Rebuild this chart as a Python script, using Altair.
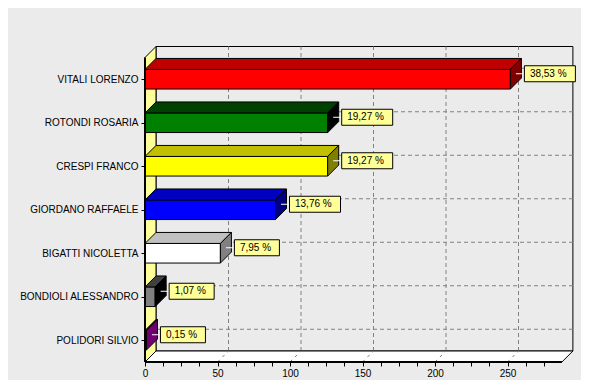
import json
import altair as alt
import pandas as pd

# ---------------- data ----------------
names = ["VITALI LORENZO", "ROTONDI ROSARIA", "CRESPI FRANCO", "GIORDANO RAFFAELE",
         "BIGATTI NICOLETTA", "BONDIOLI ALESSANDRO", "POLIDORI SILVIO"]
votes = [252, 126, 126, 90, 52, 7, 1]
pct = [38.53, 19.27, 19.27, 13.76, 7.95, 1.07, 0.15]
front_colors = ["#ff0000", "#008000", "#ffff00", "#0000ff", "#ffffff", "#808080", "#800080"]
top_colors = ["#c00000", "#004000", "#c0c000", "#0000c0", "#c0c0c0", "#404040", "#400040"]
side_colors = ["#800000", "#000000", "#808000", "#000080", "#808080", "#000000", "#700070"]
major_ticks = [0, 50, 100, 150, 200, 250]
minor_step = 12.5
axis_max = 287.5

# ---------------- geometry (pixels -> data units) ----------------
FONT = "Liberation Sans"
K = 1.45              # px per vote on x
W = 428               # plot width px
H = 316               # plot height px
NB = len(names)
KY = 43.5             # px per band
DEPTH = 11            # 3D depth in px
DXU = DEPTH / K
DYU = DEPTH / KY
XDOM = W / K
YDOM = H / KY
HB = 9.8 / KY         # bar half height

centers = [NB - i - 0.5 for i in range(NB)]
labels = [f"{p:.2f}".replace(".", ",") + " %" for p in pct]

xs = alt.Scale(domain=[0, XDOM], nice=False, zero=False)
ys = alt.Scale(domain=[0, YDOM], nice=False, zero=False)

tick_vals = [i * minor_step for i in range(int(275 / minor_step) + 1)]
xaxis = alt.Axis(values=tick_vals,
                 labelExpr="datum.value % 50 == 0 ? format(datum.value, 'd') : ''",
                 domain=False, grid=False, tickColor="black", tickSize=4,
                 labelFont=FONT, labelFontSize=10, labelColor="black", labelPadding=2,
                 labelFlush=False, labelOverlap=False, title=None)
yaxis = alt.Axis(values=centers,
                 labelExpr=f"{json.dumps(names)}[round({NB - 0.5} - datum.value)]",
                 domain=False, grid=False, tickColor="black", tickSize=4,
                 labelFont=FONT, labelFontSize=10, labelColor="black", labelPadding=3,
                 labelOverlap=False, title=None)


def XE():
    return alt.X("x:Q", scale=xs, axis=xaxis, stack=None)


def YE():
    return alt.Y("y:Q", scale=ys, axis=yaxis, stack=None)


# ---------------- frame pieces ----------------
back_df = pd.DataFrame([{"x": DXU, "x2": axis_max + DXU, "y": DYU, "y2": NB + DYU}])
back = alt.Chart(back_df).mark_rect(fill="#ebebeb", stroke="black", strokeWidth=1).encode(
    x=XE(), x2="x2:Q", y=YE(), y2="y2:Q")

vgrid_df = pd.DataFrame([{"x": v + DXU, "y": DYU, "y2": NB + DYU} for v in major_ticks[1:]])
vgrid = alt.Chart(vgrid_df).mark_rule(color="#808080", strokeDash=[4, 3], strokeWidth=1).encode(
    x=XE(), y=YE(), y2="y2:Q")

hgrid_df = pd.DataFrame([{"x": DXU, "x2": axis_max + DXU, "y": c + DYU} for c in centers])
hgrid = alt.Chart(hgrid_df).mark_rule(color="#808080", strokeDash=[4, 3], strokeWidth=1).encode(
    x=XE(), x2="x2:Q", y=YE())

floor_df = pd.DataFrame([{"y": 0, "x": 0, "x2": axis_max},
                         {"y": DYU, "x": DXU, "x2": axis_max + DXU}])
floor = alt.Chart(floor_df).mark_area(orient="horizontal", fill="white", stroke="black",
                                      strokeWidth=1).encode(x=XE(), x2="x2:Q", y=YE())

fdiag_df = pd.DataFrame([{"x": v, "x2": v + DXU, "y": 0, "y2": DYU} for v in major_ticks[1:]])
fdiag = alt.Chart(fdiag_df).mark_rule(color="#808080", strokeDash=[3, 4]).encode(
    x=XE(), x2="x2:Q", y=YE(), y2="y2:Q")

wall_df = pd.DataFrame([{"x": 0, "y": 0, "y2": NB},
                        {"x": DXU, "y": DYU, "y2": NB + DYU}])
wall = alt.Chart(wall_df).mark_area(orient="vertical", fill="#ffff99", stroke="black",
                                    strokeWidth=1).encode(x=XE(), y=YE(), y2="y2:Q")

# ---------------- bars ----------------
front_rows, top_rows, side_rows, box_rows, conn_rows, text_rows = [], [], [], [], [], []
for n, v, c, fc, tc, sc, lab in zip(names, votes, centers, front_colors, top_colors,
                                     side_colors, labels):
    front_rows.append({"name": n, "x": 0, "x2": v, "y": c - HB, "y2": c + HB, "col": fc})
    top_rows.append({"name": n, "y": c + HB, "x": 0, "x2": v, "col": tc})
    top_rows.append({"name": n, "y": c + HB + DYU, "x": DXU, "x2": v + DXU, "col": tc})
    side_rows.append({"name": n, "x": v, "y": c - HB, "y2": c + HB, "col": sc})
    side_rows.append({"name": n, "x": v + DXU, "y": c - HB + DYU, "y2": c + HB + DYU, "col": sc})
    ym = c + DYU / 2
    wpx = 6 * len(lab) + 9
    box_rows.append({"x": v + DXU, "x2": v + DXU + wpx / K, "y": ym - 8 / KY, "y2": ym + 8 / KY})
    conn_rows.append({"x": v + DXU / 2, "x2": v + DXU, "y": ym})
    text_rows.append({"x": v + DXU, "y": ym, "label": lab})

fronts = alt.Chart(pd.DataFrame(front_rows)).mark_rect(stroke="black", strokeWidth=1).encode(
    x=XE(), x2="x2:Q", y=YE(), y2="y2:Q", color=alt.Color("col:N", scale=None))
tops = alt.Chart(pd.DataFrame(top_rows)).mark_area(orient="horizontal", stroke="black",
                                                   strokeWidth=1).encode(
    x=XE(), x2="x2:Q", y=YE(), detail="name:N", color=alt.Color("col:N", scale=None))
sides = alt.Chart(pd.DataFrame(side_rows)).mark_area(orient="vertical", stroke="black",
                                                     strokeWidth=1).encode(
    x=XE(), y=YE(), y2="y2:Q", detail="name:N", color=alt.Color("col:N", scale=None))

conns = alt.Chart(pd.DataFrame(conn_rows)).mark_rule(color="white", strokeWidth=1,
                                                     x2Offset=3).encode(
    x=XE(), x2="x2:Q", y=YE())
boxes = alt.Chart(pd.DataFrame(box_rows)).mark_rect(fill="#ffff99", stroke="black",
                                                    strokeWidth=1, xOffset=3,
                                                    x2Offset=3).encode(
    x=XE(), x2="x2:Q", y=YE(), y2="y2:Q")
texts = alt.Chart(pd.DataFrame(text_rows)).mark_text(align="left", baseline="middle", dx=8.5,
                                                     font=FONT, fontSize=10,
                                                     color="black").encode(
    x=XE(), y=YE(), text="label:N")

# ---------------- front axis lines ----------------
xline = alt.Chart(pd.DataFrame([{"x": 0, "x2": axis_max, "y": 0}])).mark_rule(
    color="black", strokeWidth=2).encode(x=XE(), x2="x2:Q", y=YE())
yline = alt.Chart(pd.DataFrame([{"x": 0, "y": 0, "y2": NB}])).mark_rule(
    color="black", strokeWidth=2).encode(x=XE(), y=YE(), y2="y2:Q")

chart = alt.layer(back, vgrid, hgrid, floor, fdiag, wall, fronts, tops, sides,
                  conns, boxes, texts, xline, yline).properties(
    width=W, height=H,
    padding={"left": 137, "top": 38, "right": 8, "bottom": 18},
    autosize=alt.AutoSizeParams(type="none"),
    background="#ebebeb",
).configure_view(strokeWidth=0)

chart.save("out.html", embed_options={"renderer": "svg", "actions": False})
